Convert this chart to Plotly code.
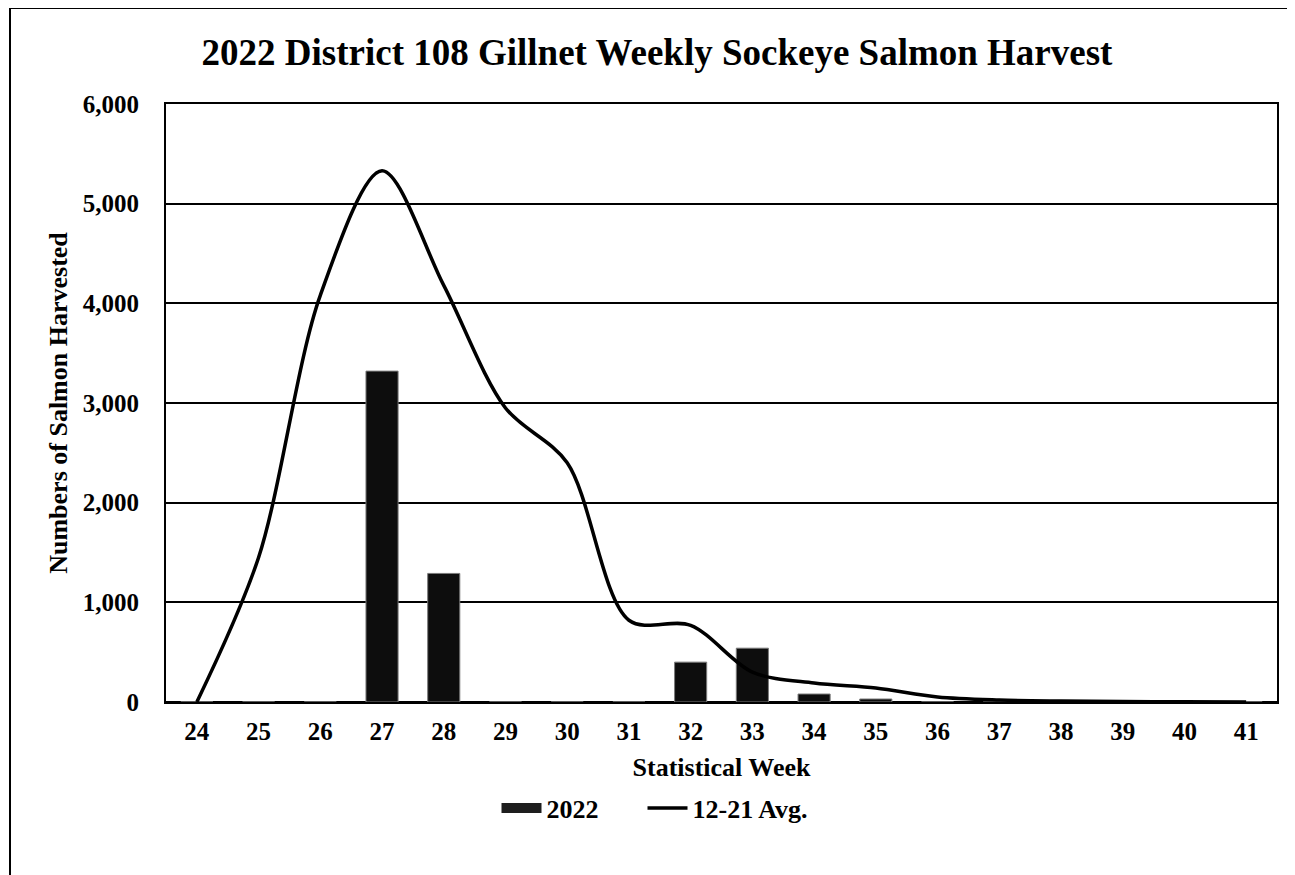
import plotly.graph_objects as go

weeks = [str(w) for w in range(24, 42)]
harvest_2022 = [0, 0, 0, 3320, 1290, 0, 0, 0, 400, 540, 80, 30, 0, 0, 0, 0, 0, 0]
avg_12_21 = [0, 1450, 4080, 5330, 4180, 2950, 2400, 820, 770, 300, 190, 140, 50, 20, 10, 5, 2, 0]
y_ticks = [0, 1000, 2000, 3000, 4000, 5000, 6000]
y_tick_labels = ["0", "1,000", "2,000", "3,000", "4,000", "5,000", "6,000"]

FONT = "Liberation Serif"
OFF = 8  # default body margin of the html page

W, H = 1295 - OFF, 875 - OFF
PL, PR, PT, PB = 166, 1277, 104, 702
L = PL - OFF
R = W - (PR - OFF)
T = PT - OFF
B = H - (PB - OFF)
pw, ph = W - L - R, H - T - B

def px_x(p):
    return (p - OFF - L) / pw

def px_y(p):
    return (H - B - (p - OFF)) / ph

def cy(p):
    return 1 - (p - OFF) / H

def cx(p):
    return (p - OFF) / W

NB = "\u00a0"

fig = go.Figure()
fig.add_trace(go.Bar(
    x=weeks, y=harvest_2022, name="<b>2022</b>", showlegend=False,
    marker=dict(color="#0d0d0d", line=dict(color="#7a7a7a", width=1)),
    width=0.52,
))
fig.add_trace(go.Scatter(
    x=[None], y=[None], name="<b>2022</b>" + NB * 6, mode="lines",
    line=dict(color="#1e1e1e", width=11),
))
fig.add_trace(go.Scatter(
    x=weeks, y=avg_12_21, name="<b>12-21 Avg.</b>", mode="lines",
    line=dict(color="black", width=3.5, shape="spline", smoothing=0.9),
))

fig.add_shape(type="rect", xref="paper", yref="paper",
              x0=px_x(10), x1=px_x(1293), y0=px_y(900), y1=px_y(8),
              line=dict(color="black", width=2), layer="below")

fig.update_layout(
    width=W, height=H,
    margin=dict(l=L, r=R, t=T, b=B, autoexpand=False),
    paper_bgcolor="white", plot_bgcolor="white",
    font=dict(family=FONT, color="black", size=25),
    title=dict(text="<b>2022 District 108 Gillnet Weekly Sockeye Salmon Harvest</b>",
               x=cx(657), xanchor="center", xref="container",
               y=cy(52), yanchor="middle",
               font=dict(family=FONT, size=37, color="black")),
    showlegend=True,
    legend=dict(orientation="h", x=cx(655), xref="container", xanchor="center",
                y=cy(808), yref="container", yanchor="middle",
                font=dict(family=FONT, size=26, color="black"),
                itemwidth=40, traceorder="normal", tracegroupgap=0),
    bargap=0.48,
)
fig.update_xaxes(
    type="category", automargin=False,
    title=dict(text="<b>Statistical Week</b>", standoff=14,
               font=dict(family=FONT, size=26)),
    tickfont=dict(family=FONT, size=25), tickprefix="<b>", ticksuffix="</b>",
    showline=True, linecolor="black", linewidth=2, mirror=True,
    ticks="outside", ticklen=6, tickcolor="rgba(0,0,0,0)", showgrid=False,
)
fig.update_yaxes(
    automargin=False,
    range=[0, 6000], tickvals=y_ticks, ticktext=[f"<b>{t}</b>" for t in y_tick_labels],
    tickfont=dict(family=FONT, size=25),
    title=dict(text="<b>Numbers of Salmon Harvested</b>", standoff=8,
               font=dict(family=FONT, size=26)),
    showline=True, linecolor="black", linewidth=2, mirror=True,
    showgrid=True, gridcolor="black", gridwidth=1.5, zeroline=True,
    zerolinecolor="black", zerolinewidth=2.5,
    ticks="outside", ticklen=20, tickcolor="rgba(0,0,0,0)",
)

fig.write_html("out.html")
